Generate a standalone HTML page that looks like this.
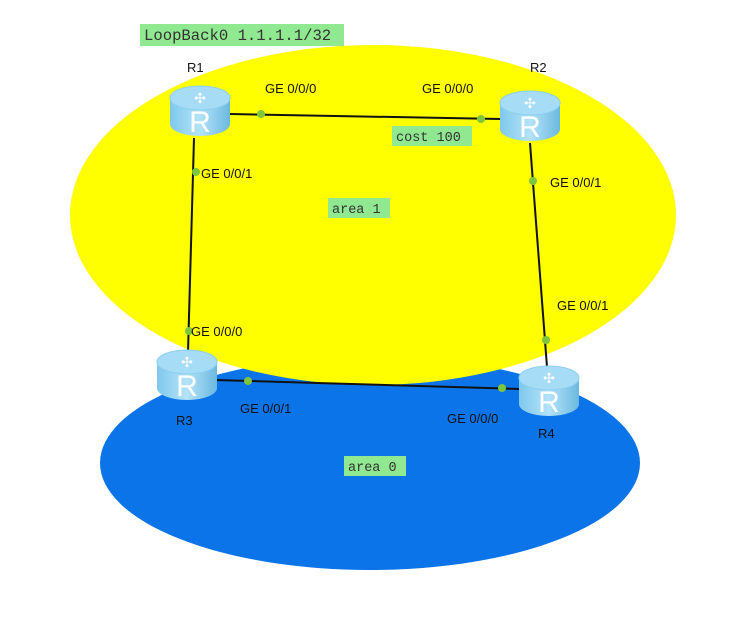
<!DOCTYPE html>
<html><head><style>body{margin:0;background:#fff}</style></head><body>
<svg width="739" height="616" xmlns="http://www.w3.org/2000/svg" font-family="Liberation Sans, sans-serif">
<defs>
<linearGradient id="g" x1="0" x2="1"><stop offset="0" stop-color="#7fc8ec"/><stop offset="0.5" stop-color="#b3e3f8"/><stop offset="1" stop-color="#6bb8e0"/></linearGradient>
<g id="r">
<path d="M-30,-12 L-30,14 A30,12 0 0 0 30,14 L30,-12 Z" fill="url(#g)"/>
<ellipse cx="0" cy="-12" rx="30" ry="12" fill="#a6dcf5" stroke="#8ccfee"/>
<text x="0" y="-7" font-size="14" fill="#fff" text-anchor="middle">✣</text>
<text x="0" y="22" font-size="30" fill="#fff" text-anchor="middle">R</text>
</g>
</defs>
<ellipse cx="370" cy="463" rx="270" ry="107" fill="#0a74e8"/>
<ellipse cx="373" cy="215" rx="303" ry="170" fill="#ffff00"/>
<rect x="140" y="24" width="204" height="22" fill="#90e890"/>
<text x="144" y="40" font-family="Liberation Mono, monospace" font-size="15.6" fill="#333">LoopBack0 1.1.1.1/32</text>
<g stroke="#111" stroke-width="2">
<line x1="230" y1="114" x2="500" y2="119"/>
<line x1="194" y1="138" x2="188" y2="352"/>
<line x1="530" y1="143" x2="547" y2="367"/>
<line x1="215" y1="380" x2="520" y2="389"/>
</g>
<g fill="#7dc63d">
<circle cx="261" cy="114" r="4"/><circle cx="481" cy="119" r="4"/><circle cx="196" cy="172" r="4"/><circle cx="189" cy="331" r="4"/>
<circle cx="533" cy="181" r="4"/><circle cx="546" cy="340" r="4"/><circle cx="248" cy="381" r="4"/><circle cx="502" cy="388" r="4"/>
</g>
<use href="#r" x="200" y="110"/>
<use href="#r" x="530" y="115"/>
<use href="#r" x="187" y="374"/>
<use href="#r" x="549" y="390"/>
<g font-size="13" fill="#111">
<text x="187" y="72">R1</text><text x="530" y="72">R2</text><text x="176" y="425">R3</text><text x="538" y="438">R4</text>
<text x="265" y="93">GE 0/0/0</text><text x="422" y="93">GE 0/0/0</text>
<text x="201" y="178">GE 0/0/1</text><text x="550" y="187">GE 0/0/1</text>
<text x="191" y="336">GE 0/0/0</text><text x="557" y="310">GE 0/0/1</text>
<text x="240" y="413">GE 0/0/1</text><text x="447" y="423">GE 0/0/0</text>
</g>
<rect x="392" y="126" width="80" height="20" fill="#90e890"/>
<text x="396" y="141" font-family="Liberation Mono, monospace" font-size="13.5" fill="#333">cost 100</text>
<rect x="328" y="198" width="62" height="20" fill="#90e890"/>
<text x="332" y="213" font-family="Liberation Mono, monospace" font-size="13.5" fill="#333">area 1</text>
<rect x="344" y="456" width="62" height="20" fill="#90e890"/>
<text x="348" y="471" font-family="Liberation Mono, monospace" font-size="13.5" fill="#333">area 0</text>
</svg>
</body></html>
